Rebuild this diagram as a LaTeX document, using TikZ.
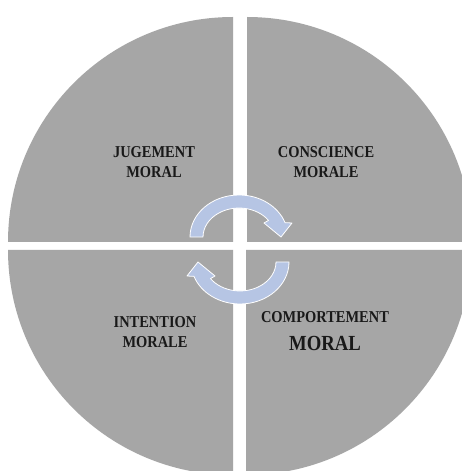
\documentclass[tikz,border=0pt]{standalone}
\usepackage{fontspec}
\setmainfont{Liberation Serif}
\newfontfamily\labfont[FakeStretch=0.87]{Liberation Serif}
\usetikzlibrary{positioning}
\definecolor{quadgray}{RGB}{166,166,166}
\definecolor{cyclblue}{RGB}{182,197,228}
\definecolor{labelink}{RGB}{25,25,25}

\begin{document}
\begin{tikzpicture}[x=1pt,y=1pt,
quad/.style={fill=quadgray},
cycl/.style={fill=cyclblue,draw=white,line width=0.8pt,line join=round},
lab/.style={align=center,text=labelink,font=\labfont\bfseries\fontsize{16.6}{19.5}\selectfont,inner sep=0pt}]
\useasboundingbox (0,0) rectangle (462,471);
\clip (0,0) rectangle (462,471);
\fill[white] (0,0) rectangle (462,471);
% four quarters
\foreach \cx/\cy/\a in {233/229/90,247/229/0,233/221/180,246/221/270}
  \fill[quad] (\cx,\cy) -- ++(\a:225) arc[start angle=\a,delta angle=90,radius=225] -- cycle;
% turning arrows
\foreach \r in {0,180}
{\draw[cycl,rotate around={\r:(239.5,221.5)}] (190,234)
  arc[start angle=180,end angle=20,x radius=49,y radius=42]
  -- (292,248) -- (281,234) -- (264,248) -- (268.5,250.6)
  arc[start angle=35,end angle=180,x radius=36,y radius=29] -- cycle;}
\node[lab] (jug) at (154,309) {JUGEMENT\\MORAL};
\node[lab] (consc) at (326,309) {CONSCIENCE\\MORALE};
\node[lab] (inten) at (155,139) {INTENTION\\MORALE};
\node[lab] (compo) at (325,154) {COMPORTEMENT};
\node[lab,font=\labfont\bfseries\fontsize{21.5}{24}\selectfont,below=13pt of compo] (moral) {MORAL};
\end{tikzpicture}
\end{document}
